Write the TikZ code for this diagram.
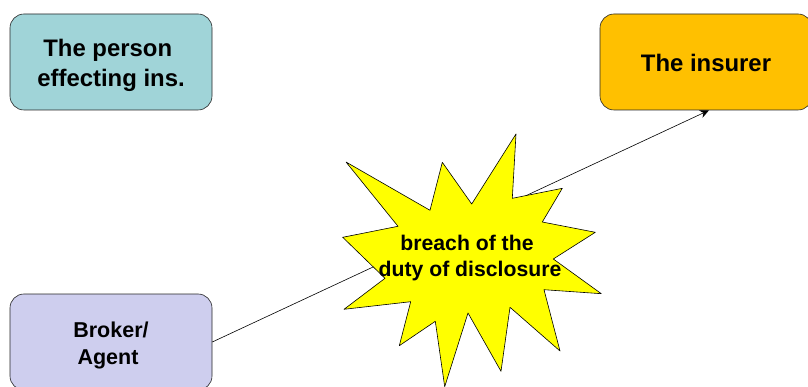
\documentclass[tikz,border=0pt]{standalone}
\usepackage{fontspec}
\setmainfont{Liberation Sans}
\usetikzlibrary{arrows.meta}
\begin{document}
\begin{tikzpicture}[line join = round,>=stealth,x=1pt,y=-1pt,font=\bfseries]
            \definecolor{tealbox}{RGB}{160,212,216}
            \definecolor{amberbox}{RGB}{255,192,0}
            \definecolor{lilacbox}{RGB}{206,206,238}
            \definecolor{burstyellow}{RGB}{255,255,0}
            \tikzset{party/.style={draw=black!85,rounded corners=14pt,minimum width=202pt,minimum height=96pt,
                    inner sep=0pt,align=center,line width=.6pt,font=\fontsize{23.9}{30}\selectfont\bfseries}}
            \useasboundingbox (0,0) rectangle (808,387);
            
            \node[party,fill=tealbox] (person) at (111,62) {\rule{0pt}{23.5pt}The person\kern6.5pt\\effecting ins.};
            \node[party,fill=amberbox,minimum width=212pt] (insurer) at (706,62) {\rule{0pt}{19.5pt}The insurer};
            \node[party,fill=lilacbox,font=\fontsize{21.5}{27}\selectfont\bfseries] (broker) at (111,342) {\rule{0pt}{22.5pt}Broker/\\Agent\kern6pt};
            
            \draw[-{Stealth[length=9pt,width=8pt]},line width=.6pt] (broker.east)--([xshift=3pt]insurer.south);
            %===============================
            \def\Burst{
                (516,134)--(512.3,198.3)--(562.3,188.3)--(542.3,222)--(595.3,232.3)--(553.3,259)
                --(601.3,293.7)--(544,289.7)--(560,351)--(510,307.3)--(501,371.3)--(468,313)
                --(444.7,386.7)--(435.3,321.3)--(399.3,345.7)--(410.7,301.7)--(344,309.3)--(385,278.3)
                --(342.7,237.3)--(398,226.3)--(346,162)--(430,210.3)--(442.3,162.3)--(471.7,204)--cycle
                ;
            }
            \fill[burstyellow] \Burst;
            \draw[black,line width=.6pt] \Burst;
            \node[inner sep=0pt,align=center,font=\fontsize{21.2}{26}\selectfont\bfseries] (breach) at (470,258.5) {breach of the\kern6pt\\duty of disclosure};
\end{tikzpicture}
\end{document}
